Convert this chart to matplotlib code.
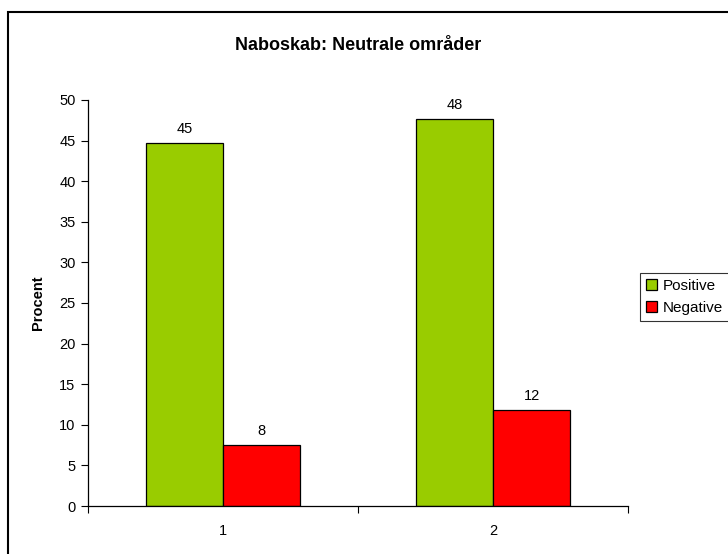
import matplotlib
matplotlib.use("Agg")
import matplotlib.pyplot as plt
from matplotlib.patches import Rectangle
import numpy as np

plt.rcParams['font.family'] = ['Liberation Sans', 'DejaVu Sans']

categories = ["1", "2"]
positive = [44.7, 47.7]
negative = [7.5, 11.8]
positive_labels = ["45", "48"]
negative_labels = ["8", "12"]
title = "Naboskab: Neutrale områder"
ylabel = "Procent"
yticks = [0, 5, 10, 15, 20, 25, 30, 35, 40, 45, 50]

W, H = 728, 554
fig = plt.figure(figsize=(W / 100, H / 100), dpi=100)

# outer chart frame (extends beyond right and bottom edges)
fig.add_artist(Rectangle((8 / W, -0.05), 1.2, 1 - 12 / H + 0.05,
                         transform=fig.transFigure, fill=False,
                         edgecolor='black', linewidth=1.5))

ax = fig.add_axes([88 / W, (H - 506) / H, 540 / W, (506 - 100) / H])

x = np.arange(len(categories))
bw = 0.2857
b1 = ax.bar(x - bw / 2, positive, bw, color='#99CC00', edgecolor='black',
            linewidth=0.9, label='Positive')
b2 = ax.bar(x + bw / 2, negative, bw, color='#FF0000', edgecolor='black',
            linewidth=0.9, label='Negative')

for rect, lab in zip(b1, positive_labels):
    ax.annotate(lab, (rect.get_x() + rect.get_width() / 2, rect.get_height()),
                xytext=(0, 5), textcoords='offset points', ha='center',
                va='bottom', fontsize=10.5)
for rect, lab in zip(b2, negative_labels):
    ax.annotate(lab, (rect.get_x() + rect.get_width() / 2, rect.get_height()),
                xytext=(0, 5), textcoords='offset points', ha='center',
                va='bottom', fontsize=10.5)

ax.set_xlim(-0.5, len(categories) - 0.5)
ax.set_ylim(0, 50)
ax.set_yticks(yticks)
ax.tick_params(axis='y', direction='out', length=5, width=0.8, labelsize=10.5, pad=4)

ax.set_xticks(np.arange(-0.5, len(categories), 1.0))
ax.set_xticklabels([])
ax.set_xticks(x, minor=True)
ax.set_xticklabels(categories, minor=True, fontsize=10.5)
ax.tick_params(axis='x', which='major', direction='out', length=5, width=0.8)
ax.tick_params(axis='x', which='minor', length=0, pad=13)

for s in ['top', 'right']:
    ax.spines[s].set_visible(False)
for s in ['left', 'bottom']:
    ax.spines[s].set_linewidth(0.9)

ax.set_ylabel(ylabel, fontsize=10.5, fontweight='bold', labelpad=10)

fig.text((88 + 628) / 2 / W, 1 - 45 / H, title, ha='center', va='center',
         fontsize=13, fontweight='bold')

leg = fig.legend(handles=[b1, b2], loc='upper left',
                 bbox_to_anchor=(640 / W, 1 - 273 / H),
                 fontsize=11, frameon=True, fancybox=False,
                 handlelength=0.7, handleheight=0.7, handletextpad=0.4,
                 borderpad=0.4, labelspacing=0.5, borderaxespad=0)
leg.get_frame().set_edgecolor('black')
leg.get_frame().set_linewidth(0.8)

fig.savefig('out.png', dpi=100)
